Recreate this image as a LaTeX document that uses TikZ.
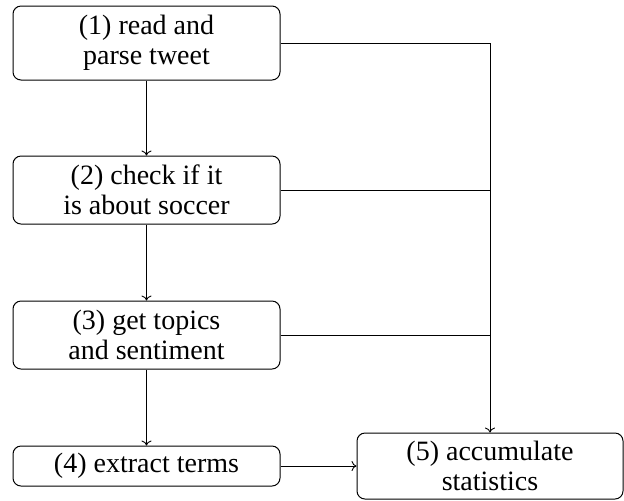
\documentclass[tikz,border=0pt]{standalone}
\usepackage{fontspec}
\setmainfont{Liberation Serif}
\usetikzlibrary{arrows.meta}
\begin{document}
\begin{tikzpicture}[x=0.5pt,y=-0.5pt,
  box/.style={draw, rounded corners=4pt, line width=0.5pt, align=center, inner sep=0pt,
    font=\fontsize{14}{14.8}\selectfont},
  conn/.style={line width=0.45pt},
  arr/.style={conn, -{To[length=2.5pt,width=5pt]}}]
\useasboundingbox (0,0) rectangle (624,500);
\node[box, minimum width=133.5pt, minimum height=37pt] (n1) at (146.5,43) {(1) read and\\parse tweet};
\node[box, minimum width=133.5pt, minimum height=34pt] (n2) at (146.5,190) {(2) check if it\\is about soccer};
\node[box, minimum width=133.5pt, minimum height=34pt] (n3) at (146.5,335) {(3) get topics\\and sentiment};
\node[box, minimum width=133.5pt, minimum height=20pt] (n4) at (146.5,466) {(4) extract terms};
\node[box, minimum width=133pt, minimum height=33pt] (n5) at (490,466) {(5) accumulate\\statistics};
\draw[arr] (n1.south) -- (n2.north);
\draw[arr] (n2.south) -- (n3.north);
\draw[arr] (n3.south) -- (n4.north);
\draw[arr] (n4.east) -- (n5.west);
\draw[arr] (n1.east) -| (n5.north);
\draw[conn] (n2.east) -- (n2.east -| n5.north);
\draw[conn] (n3.east) -- (n3.east -| n5.north);
\end{tikzpicture}
\end{document}
